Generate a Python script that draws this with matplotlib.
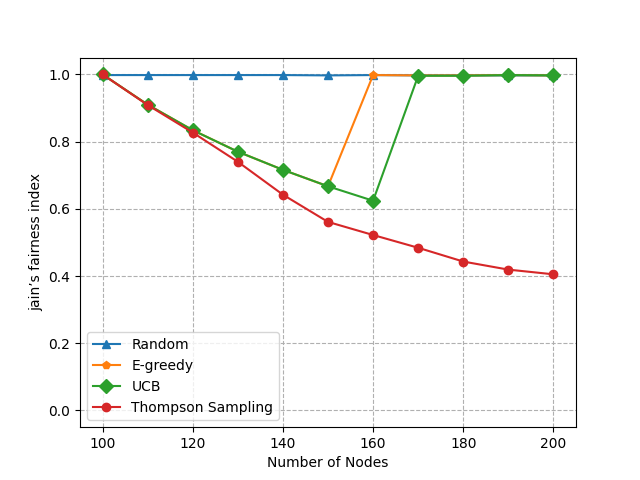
import matplotlib
matplotlib.use("Agg")
import matplotlib.pyplot as plt

nodes = [100, 110, 120, 130, 140, 150, 160, 170, 180, 190, 200]
random_fi = [0.998, 0.998, 0.998, 0.998, 0.998, 0.997, 0.998, 0.997, 0.997, 0.997, 0.997]
egreedy_fi = [1.0, 0.91, 0.834, 0.770, 0.716, 0.667, 0.998, 0.997, 0.997, 0.998, 0.997]
ucb_fi = [1.0, 0.91, 0.834, 0.770, 0.716, 0.667, 0.624, 0.996, 0.996, 0.998, 0.997]
thompson_fi = [1.0, 0.909, 0.827, 0.740, 0.642, 0.561, 0.522, 0.484, 0.443, 0.419, 0.405]

fig = plt.figure(figsize=(6.4, 4.8), dpi=100)
plt.plot(nodes, random_fi, marker="^", label="Random")
plt.plot(nodes, egreedy_fi, marker="p", label="E-greedy")
plt.plot(nodes, ucb_fi, marker="D", markersize=7, label="UCB")
plt.plot(nodes, thompson_fi, marker="o", label="Thompson Sampling")
plt.xlabel("Number of Nodes")
plt.ylabel("jain\u2019s fairness index")
plt.ylim(-0.05, 1.05)
plt.grid(linestyle="--")
plt.legend(loc="lower left")
plt.savefig("out.png")
